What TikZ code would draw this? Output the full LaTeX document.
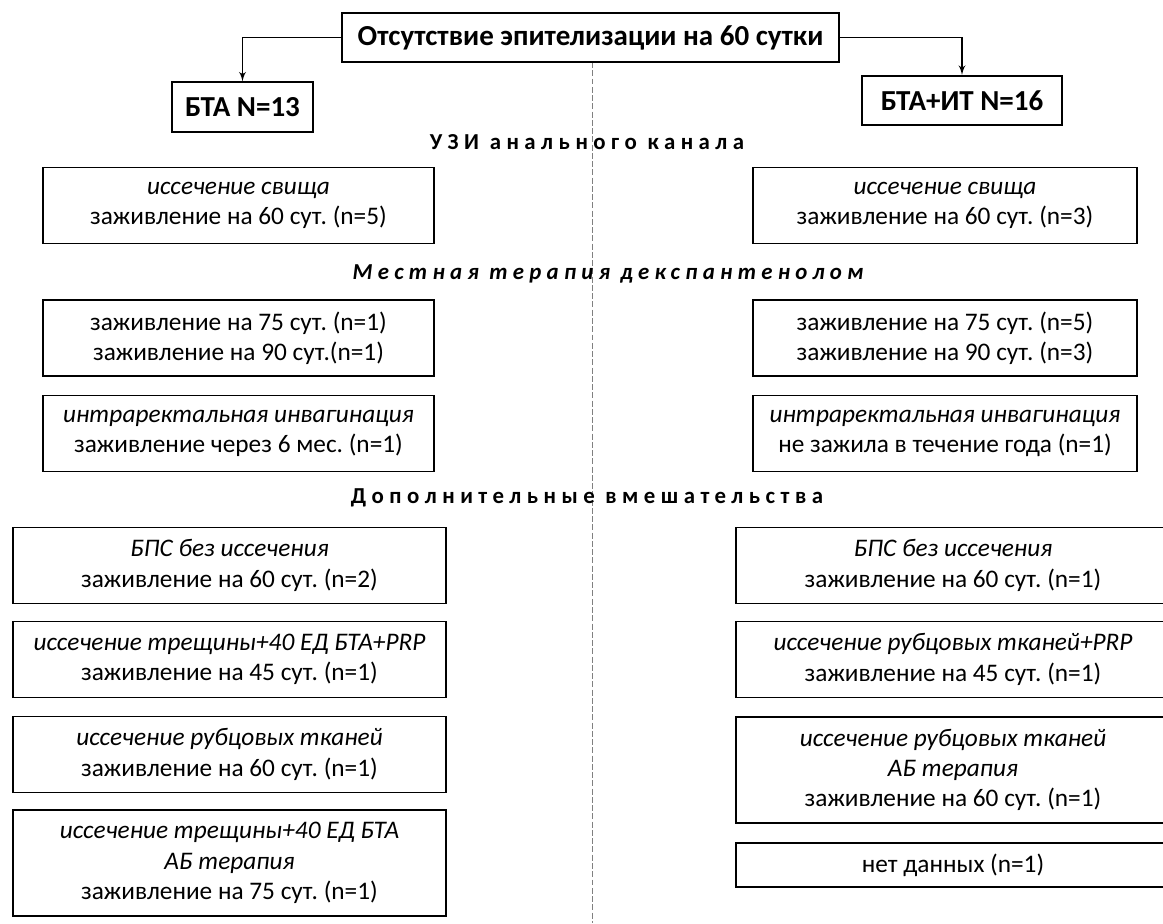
\documentclass[tikz,border=0pt]{standalone}
\usepackage{fontspec}
\setmainfont{Carlito}
\usetikzlibrary{positioning}
\usetikzlibrary{shapes,arrows}
\tikzstyle{block} = [rectangle, draw, fill=white, align=center, line width=0.9pt,
font=\fontsize{14.4}{17.2}\selectfont\frenchspacing]
\tikzstyle{colA} = [block, minimum height=1.52cm]
\tikzstyle{group} = [block, minimum height=0.99cm, font=\fontsize{16.5}{19}\selectfont\bfseries]
\tikzstyle{heading} = [font=\fontsize{13}{15}\selectfont\bfseries\addfontfeature{LetterSpace=24}]
\tikzstyle{iheading} = [font=\fontsize{13}{15}\selectfont\bfseries\itshape\addfontfeature{LetterSpace=23}]
\tikzstyle{line} = [draw, line width=0.9pt, -latex']

\begin{document}
\begin{tikzpicture}[x=0.02cm, y=-0.02cm]
    \useasboundingbox (0,0) rectangle (1163,923);
    % divider
    \draw [gray, line width=0.5pt, dash pattern=on 3.4pt off 1.3pt] (592,62) -- (592,923);
    % nodes
    \node [group, minimum width=9.94cm] (absent) at (590.5,37.5) {Отсутствие эпителизации на 60 сутки};
    \node [group, minimum width=2.82cm] (bta) at (242.5,107) {БТА N=13};
    \node [group, minimum width=4cm] (btait) at (962,100.5) {БТА+ИТ N=16};
    \node [heading] (uzi) at (587,142) {УЗИ анального канала};
    \node [colA, minimum width=7.82cm] (fistL) at (238.5,205.5) {\textit{иссечение свища}\\заживление на 60 сут. (n=5)};
    \node [colA, minimum width=7.68cm] (fistR) at (945,205.5) {\textit{иссечение свища}\\заживление на 60 сут. (n=3)};
    \node [iheading] (dexp) at (608,274) {Местная терапия декспантенолом};
    \node [colA, minimum width=7.82cm] (healL) at (238.5,338) {заживление на 75 сут. (n=1)\\заживление на 90 сут.(n=1)};
    \node [colA, minimum width=7.68cm] (healR) at (945,338) {заживление на 75 сут. (n=5)\\заживление на 90 сут. (n=3)};
    \node [colA, minimum width=7.82cm] (invL) at (238.5,433.5) {\textit{интраректальная инвагинация}\\заживление через 6 мес. (n=1)};
    \node [colA, minimum width=7.68cm] (invR) at (945,433.5) {\textit{интраректальная инвагинация}\\не зажила в течение года (n=1)};
    \node [heading] (extra) at (587,498) {Дополнительные вмешательства};
    \node [colA, minimum width=8.66cm] (bpsL) at (229.5,565.5) {\textit{БПС без иссечения}\\заживление на 60 сут. (n=2)};
    \node [colA, minimum width=8.66cm] (prpL) at (229.5,659.5) {\textit{иссечение трещины+40 ЕД БТА+PRP}\\заживление на 45 сут. (n=1)};
    \node [colA, minimum width=8.66cm] (scarL) at (229.5,754.5) {\textit{иссечение рубцовых тканей}\\заживление на 60 сут. (n=1)};
    \node [colA, minimum width=8.66cm, minimum height=2.12cm] (abL) at (229.5,863) {\textit{иссечение трещины+40 ЕД БТА}\\\textit{АБ терапия}\\заживление на 75 сут. (n=1)};
    \node [colA, minimum width=8.68cm] (bpsR) at (953,565.5) {\textit{БПС без иссечения}\\заживление на 60 сут. (n=1)};
    \node [colA, minimum width=8.68cm] (prpR) at (953,659.5) {\textit{иссечение рубцовых тканей+PRP}\\заживление на 45 сут. (n=1)};
    \node [colA, minimum width=8.68cm, minimum height=2.12cm] (abR) at (953,770) {\textit{иссечение рубцовых тканей}\\\textit{АБ терапия}\\заживление на 60 сут. (n=1)};
    \node [block, minimum width=8.68cm, minimum height=0.88cm] (nodata) at (953,865) {нет данных (n=1)};

    % edges
    \draw [line] (absent.west) -| (bta.north);
    \draw [line] (absent.east) -| (btait.north);
\end{tikzpicture}
\end{document}
